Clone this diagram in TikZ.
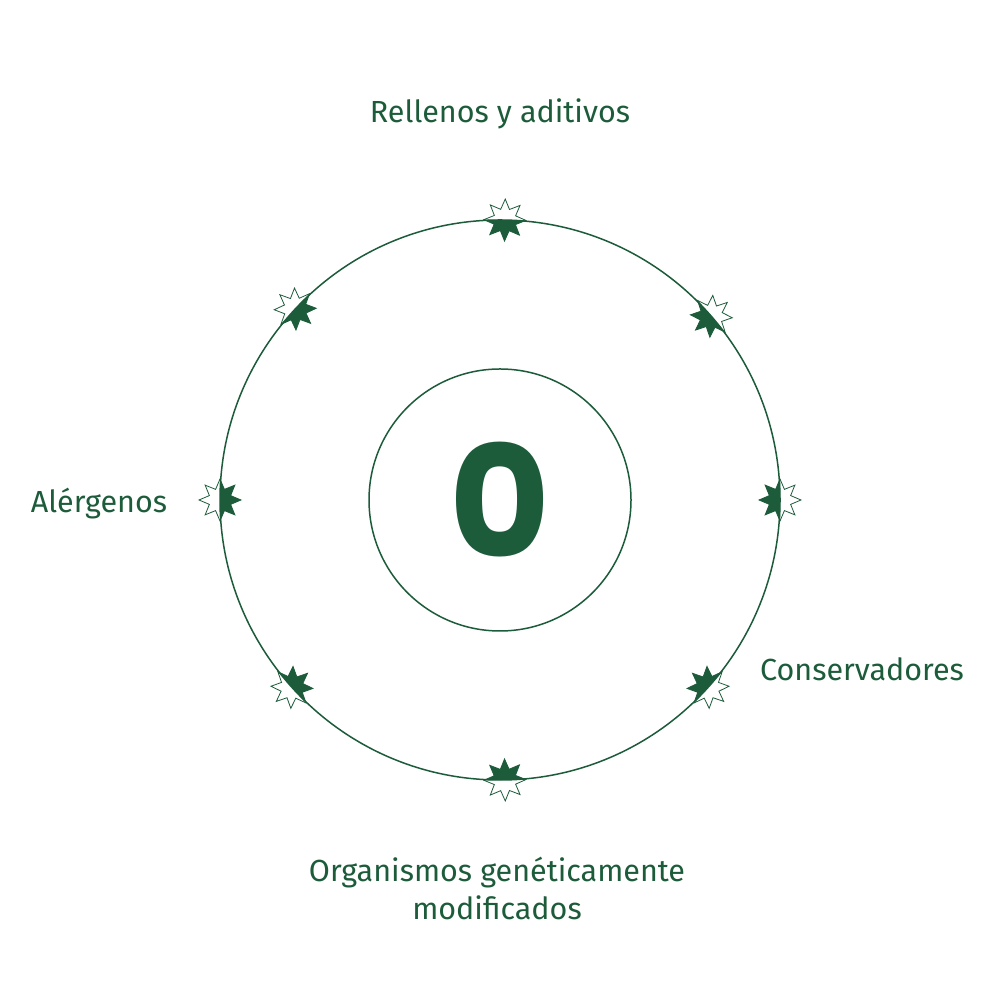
\documentclass[tikz,border=0pt]{standalone}
\usepackage{fontspec}
\usetikzlibrary{calc}
\setmainfont{Fira Sans}
\newfontfamily\zerofont{Poppins}
\definecolor{gc}{HTML}{1D5C3A}
\def\starpath{(0:21) \foreach \k in {0,...,7}{ -- ({\k*45}:21) -- ({\k*45+22.5}:11.5)} -- cycle}
\tikzset{
  lbl/.style={text=gc,font=\fontsize{30.5}{38}\selectfont,align=center,inner sep=0pt},
  ring/.style={draw=gc,line width=1.5pt},
  pics/halfstar/.style={code={
    \path[fill=white,draw=gc,line width=0.8pt] \starpath;
    \begin{scope}
      \clip (-25,-25) rectangle (0,25);
      \fill[gc] \starpath;
    \end{scope}
  }}
}
\begin{document}
\begin{tikzpicture}[x=1pt,y=1pt]
\useasboundingbox[fill=white] (0,0) rectangle (1000,1000);
\coordinate (c) at (500,500);
\foreach \a/\n in {89/s1,41/s2,0/s3,-42/s4,-89/s5,-138/s6,180/s7,137/s8}{
  \pic[shift={($(c)+(\a:280)$)},rotate=\a] (\n) {halfstar};
}
\node[ring,circle,minimum size=560pt,inner sep=0pt] (outer) at (c) {};
\node[ring,circle,minimum size=262pt,inner sep=0pt] (inner) at (c) {};
\node[text=gc,inner sep=0pt,font=\zerofont\bfseries\fontsize{155}{160}\selectfont] (zero) at (500,500) {0};
\node[lbl] (t1) at (500,886) {Rellenos y aditivos};
\node[lbl] (t2) at (99,496) {Alérgenos};
\node[lbl] (t3) at (862,331) {Conservadores};
\node[lbl] (t4) at (497,112) {Organismos genéticamente\\modificados};
\end{tikzpicture}
\end{document}
